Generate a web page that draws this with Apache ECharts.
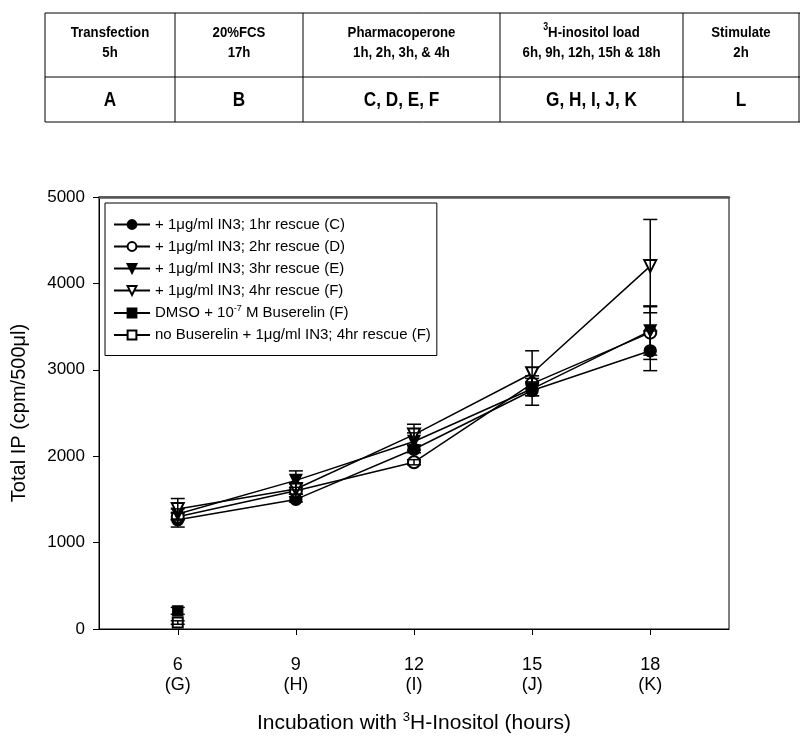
<!DOCTYPE html>
<html>
<head>
<meta charset="utf-8">
<script src="https://cdn.jsdelivr.net/npm/echarts@6/dist/echarts.min.js"></script>
<style>html,body{margin:0;padding:0;background:#fff}#c{width:800px;height:739px}</style>
</head>
<body>
<div id="c"></div>
<script>
// ---- data ----
const xHours = [6, 9, 12, 15, 18];
const xLetters = ['G', 'H', 'I', 'J', 'K'];
const rescue1hC = [1265, 1500, 2080, 2760, 3220];
const rescue1hErr = [85, 30, 40, 170, 230];
const rescue2hD = [1300, 1600, 1930, 2840, 3430];
const rescue2hErr = [40, 40, 30, 60, 310];
const rescue3hE = [1330, 1720, 2170, 2780, 3450];
const rescue3hErr = [60, 110, 100, 80, 280];
const rescue4hF = [1390, 1620, 2250, 2960, 4200];
const rescue4hErr = [120, 60, 120, 260, 540];
const dmsoBuserelin = [210];
const dmsoBuserelinErr = [40];
const noBuserelin = [75];
const noBuserelinErr = [20];
const yTicks = [0, 1000, 2000, 3000, 4000, 5000];
const seriesNames = [
  '+ 1\u03bcg/ml IN3; 1hr rescue (C)',
  '+ 1\u03bcg/ml IN3; 2hr rescue (D)',
  '+ 1\u03bcg/ml IN3; 3hr rescue (E)',
  '+ 1\u03bcg/ml IN3; 4hr rescue (F)',
  'DMSO + 10-7 M Buserelin (F)',
  'no Buserelin + 1\u03bcg/ml IN3; 4hr rescue (F)'
];
const tableHeader1 = ['Transfection', '20%FCS', 'Pharmacoperone', '{sup|3}H-inositol load', 'Stimulate'];
const tableHeader2 = ['5h', '17h', '1h, 2h, 3h, & 4h', '6h, 9h, 12h, 15h & 18h', '2h'];
const tableRow = ['A', 'B', 'C, D, E, F', 'G, H, I, J, K', 'L'];

// ---- table graphic ----
const colX = [45, 175, 303, 500, 683, 799];
const tTop = 13, tMid = 77, tBot = 122;
const graphics = [];
const lineStyle = {stroke: '#000', lineWidth: 1};
[tTop, tMid, tBot].forEach(y => graphics.push({type: 'line', shape: {x1: colX[0], y1: y, x2: 800, y2: y}, style: lineStyle, silent: true}));
colX.forEach(x => graphics.push({type: 'line', shape: {x1: x, y1: tTop, x2: x, y2: tBot}, style: lineStyle, silent: true}));
const narrow = '"Liberation Sans Narrow", "Liberation Sans", Arial, sans-serif';
for (let i = 0; i < 5; i++) {
  const cx = (colX[i] + colX[i + 1]) / 2;
  graphics.push({type: 'text', x: cx, y: 33, scaleX: 0.88, silent: true, style: {text: tableHeader1[i], fontFamily: narrow, fontWeight: 'bold', fontSize: 15, fill: '#000', align: 'center', verticalAlign: 'middle', rich: {sup: {fontSize: 10, fontWeight: 'bold', fontFamily: narrow, padding: [0, 0, 11, 0]}}}});
  graphics.push({type: 'text', x: cx, y: 53, scaleX: 0.88, silent: true, style: {text: tableHeader2[i], fontFamily: narrow, fontWeight: 'bold', fontSize: 15, fill: '#000', align: 'center', verticalAlign: 'middle'}});
  graphics.push({type: 'text', x: cx, y: 100, scaleX: 0.86, silent: true, style: {text: tableRow[i], fontFamily: narrow, fontWeight: 'bold', fontSize: 20, fill: '#000', align: 'center', verticalAlign: 'middle'}});
}

function pairs(xs, ys) { return ys.map((v, i) => [xs[i], v]); }
function errs(xs, ys, es) { return ys.map((v, i) => [xs[i], v, es[i]]); }

function lineSeries(name, ys, symbol, rotate) {
  return {
    name: name, type: 'line', data: pairs(xHours, ys),
    symbol: symbol, symbolSize: symbol.indexOf('Rect') >= 0 || symbol === 'rect' ? 10 : 12,
    symbolRotate: rotate || 0,
    showAllSymbol: true,
    lineStyle: {color: '#000', width: 1.5},
    itemStyle: {color: '#000', borderColor: '#000', borderWidth: 1.3},
    z: 3
  };
}
function errSeries(ys, es) {
  return {
    type: 'custom', data: errs(xHours, ys, es), z: 4, silent: true,
    renderItem: function (params, api) {
      const x = api.value(0), y = api.value(1), e = api.value(2);
      const t = api.coord([x, y + e]);
      const b = api.coord([x, y - e]);
      const w = 7;
      const st = {stroke: '#000', lineWidth: 1.5};
      return {type: 'group', children: [
        {type: 'line', shape: {x1: t[0], y1: t[1], x2: b[0], y2: b[1]}, style: st},
        {type: 'line', shape: {x1: t[0] - w, y1: t[1], x2: t[0] + w, y2: t[1]}, style: st},
        {type: 'line', shape: {x1: b[0] - w, y1: b[1], x2: b[0] + w, y2: b[1]}, style: st}
      ]};
    }
  };
}

const sans = '"Liberation Sans", Arial, sans-serif';

const option = {
  backgroundColor: '#fff',
  animation: false,
  graphic: graphics,
  grid: {left: 99, right: 71, top: 197, bottom: 105, show: true, borderColor: '#000', borderWidth: 1, containLabel: false},
  legend: {
    orient: 'vertical', left: 105, top: 203,
    data: seriesNames,
    itemWidth: 36, itemHeight: 11, itemGap: 5,
    padding: [13, 6, 12, 8],
    borderColor: '#000', borderWidth: 1, backgroundColor: '#fff',
    selectedMode: false,
    textStyle: {fontFamily: sans, fontSize: 15, color: '#000', lineHeight: 17, rich: {sup: {fontSize: 9, fontFamily: sans, padding: [0, 0, 9, 0], color: '#000'}, n: {fontSize: 15, fontFamily: sans, color: '#000'}}},
    formatter: function (name) {
      if (name.indexOf('10-7') >= 0) return '{n|DMSO + 10}{sup|-7}{n| M Buserelin (F)}';
      return name;
    }
  },
  xAxis: [{
    type: 'value', min: 4, max: 20,
    name: 'Incubation with {sup|3}H-Inositol (hours)',
    nameLocation: 'middle', nameGap: 82,
    nameTextStyle: {fontFamily: narrow, fontSize: 21, color: '#000', rich: {sup: {fontFamily: narrow, fontSize: 13, padding: [0, 0, 12, 0], color: '#000'}}},
    axisLine: {show: true, lineStyle: {color: '#000', width: 1}},
    axisTick: {show: true, length: 6, customValues: xHours, lineStyle: {color: '#000'}},
    axisLabel: {customValues: xHours, margin: 26, fontFamily: narrow, fontSize: 18, lineHeight: 20, color: '#000',
      formatter: function (v) { const i = xHours.indexOf(v); return v + '\n(' + xLetters[i] + ')'; }},
    splitLine: {show: false}
  }, {
    type: 'value', min: 4, max: 20, position: 'top',
    axisLine: {show: true, lineStyle: {color: '#555', width: 2.5}},
    axisTick: {show: false}, axisLabel: {show: false}, splitLine: {show: false}
  }],
  yAxis: {
    type: 'value', min: 0, max: 5000, interval: 1000,
    name: 'Total IP (cpm/500\u03bcl)', nameLocation: 'middle', nameGap: 70, nameRotate: 90,
    nameTextStyle: {fontFamily: sans, fontSize: 20, color: '#000'},
    axisLine: {show: true, lineStyle: {color: '#000', width: 1}},
    axisTick: {show: true, length: 6, lineStyle: {color: '#000'}},
    axisLabel: {fontFamily: sans, fontSize: 17, color: '#000', margin: 14,
      formatter: function (v) { return yTicks.indexOf(v) >= 0 ? String(v) : ''; }},
    splitLine: {show: false}
  },
  series: [
    lineSeries(seriesNames[0], rescue1hC, 'circle'),
    lineSeries(seriesNames[1], rescue2hD, 'emptyCircle'),
    lineSeries(seriesNames[2], rescue3hE, 'triangle', 180),
    lineSeries(seriesNames[3], rescue4hF, 'emptyTriangle', 180),
    lineSeries(seriesNames[4], dmsoBuserelin, 'rect'),
    lineSeries(seriesNames[5], noBuserelin, 'emptyRect'),
    errSeries(rescue1hC, rescue1hErr),
    errSeries(rescue2hD, rescue2hErr),
    errSeries(rescue3hE, rescue3hErr),
    errSeries(rescue4hF, rescue4hErr),
    errSeries(dmsoBuserelin, dmsoBuserelinErr),
    errSeries(noBuserelin, noBuserelinErr)
  ]
};
const chart = echarts.init(document.getElementById('c'), null, {renderer: 'canvas'});
chart.setOption(option);
</script>
</body>
</html>
